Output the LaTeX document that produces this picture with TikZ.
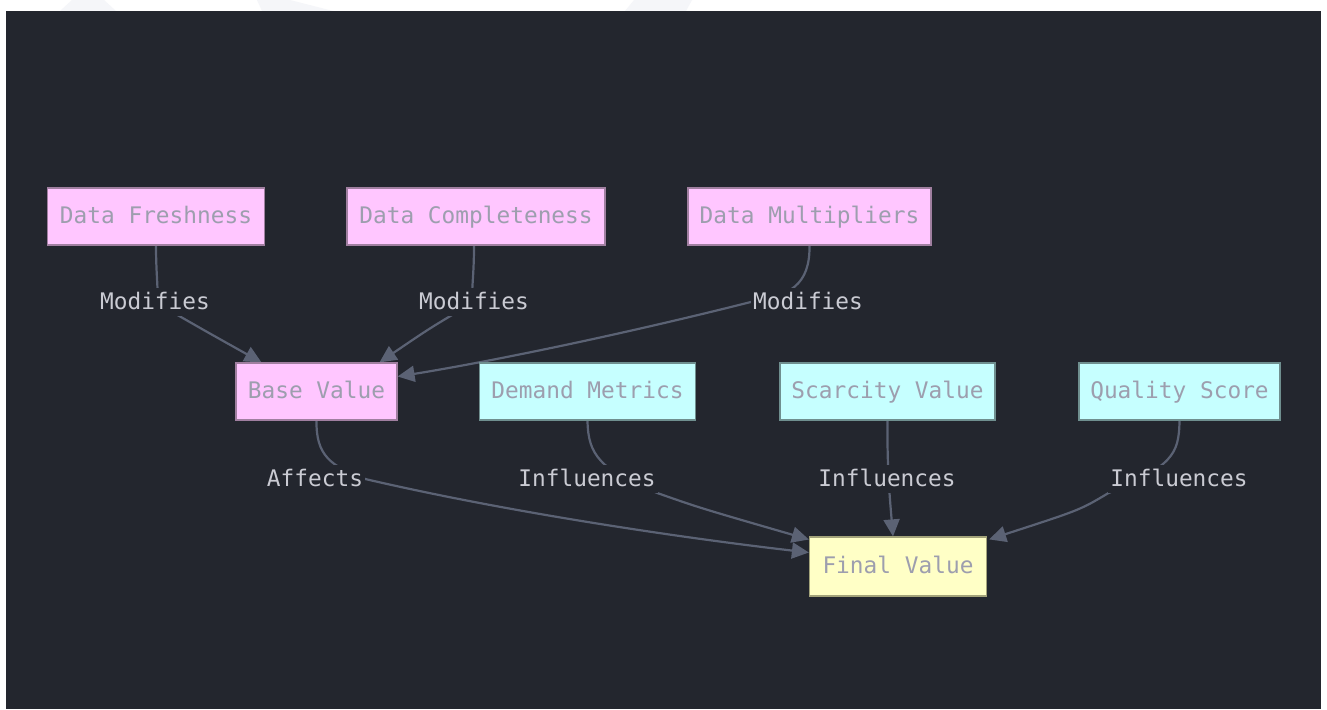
\documentclass[tikz,border=0pt]{standalone}
\usepackage{fontspec}
\setmonofont{DejaVu Sans Mono}
\usetikzlibrary{arrows.meta}
\pgfdeclarelayer{back}
\pgfdeclarelayer{wires}
\pgfsetlayers{back,wires,main}

\definecolor{canvas}{HTML}{23262E}
\definecolor{paper}{HTML}{FFFFFF}
\definecolor{ghost}{HTML}{F5F6F9}
\definecolor{pinkfill}{HTML}{FFC6FF}
\definecolor{pinkline}{HTML}{A07FA0}
\definecolor{cyanfill}{HTML}{C6FFFF}
\definecolor{cyanline}{HTML}{6F8F8F}
\definecolor{yellowfill}{HTML}{FFFFC6}
\definecolor{yellowline}{HTML}{A3A37A}
\definecolor{boxtext}{HTML}{9D9EAE}
\definecolor{labeltext}{HTML}{CACBD3}
\definecolor{wire}{HTML}{5B6274}

\tikzset{
  box/.style={draw, line width=1.2pt, minimum height=57pt, inner sep=0pt,
    text=boxtext, text height=19pt, text depth=5pt,
    font=\ttfamily\fontsize{22.8}{26}\selectfont},
  pinkbox/.style={box, fill=pinkfill, draw=pinkline},
  cyanbox/.style={box, fill=cyanfill, draw=cyanline},
  yellowbox/.style={box, fill=yellowfill, draw=yellowline},
  edgelabel/.style={fill=canvas, text=labeltext, inner sep=2pt,
    text height=19pt, text depth=5pt,
    font=\ttfamily\fontsize{22.8}{26}\selectfont},
  wireline/.style={draw=wire, line width=2.2pt,
    -{Triangle[length=17pt, width=16pt]}},
}

\begin{document}
\begin{tikzpicture}[x=1pt, y=-1pt]
  % page and dark canvas
  \begin{pgfonlayer}{back}
    \fill[paper] (0,0) rectangle (1327,709);
    \fill[ghost] (60,11) -- (72,0) -- (104,0) -- (116,11) -- cycle;
    \fill[ghost] (257,0) -- (290,0) -- (333,11) -- (262,11) -- cycle;
    \fill[ghost] (625,11) -- (634,0) -- (692,0) -- (686,11) -- cycle;
    \fill[canvas] (6,11) rectangle (1321,709);
  \end{pgfonlayer}
  \useasboundingbox (0,0) rectangle (1327,709);

  % boxes
  \node[pinkbox, minimum width=217pt] (fresh) at (156,216.5) {Data Freshness};
  \node[pinkbox, minimum width=258pt] (compl) at (476,216.5) {Data Completeness};
  \node[pinkbox, minimum width=243pt] (mult)  at (809.5,216.5) {Data Multipliers};
  \node[pinkbox, minimum width=161pt] (base)  at (316.5,391.5) {Base Value};
  \node[cyanbox, minimum width=216pt] (demand) at (587.5,391.5) {Demand Metrics};
  \node[cyanbox, minimum width=215pt] (scarce) at (887.5,391.5) {Scarcity Value};
  \node[cyanbox, minimum width=201pt] (quality) at (1179.5,391.5) {Quality Score};
  \node[yellowbox, minimum width=177pt, minimum height=59pt] (final) at (898,566.5) {Final Value};

  % edge labels
  \node[edgelabel] (lfresh) at (155,302) {Modifies};
  \node[edgelabel] (lcompl) at (474,302) {Modifies};
  \node[edgelabel] (lmult)  at (808,302) {Modifies};
  \node[edgelabel] (lbase)  at (315,479) {Affects};
  \node[edgelabel] (ldemand) at (587,479) {Influences};
  \node[edgelabel] (lscarce) at (887,479) {Influences};
  \node[edgelabel] (lquality) at (1179,479) {Influences};

  % connectors, drawn beneath the labels
  \begin{pgfonlayer}{wires}
    \draw[wireline] (fresh.south) .. controls (156,282) and (160,298) .. (lfresh.center)
      .. controls (200,328) .. ([xshift=-55pt]base.north);
    \draw[wireline] (compl.south -| lcompl) .. controls (474,282) and (470,296) .. (lcompl.center)
      .. controls (430,328) .. ([xshift=63pt]base.north);
    \draw[wireline] (mult.south) .. controls (810,285) and (790,296) .. (lmult.west)
      .. controls (600,340) and (470,365) .. ([yshift=15pt]base.east);
    \draw[wireline] (base.south) .. controls (316,455) and (330,466) .. (lbase.east)
      .. controls (520,515) and (700,540) .. ([yshift=14pt]final.west);
    \draw[wireline] (demand.south) .. controls (588,455) and (600,470) .. (ldemand.south east)
      .. controls (700,508) .. ([yshift=27pt]final.west);
    \draw[wireline] (scarce.south) .. controls (887,470) and (890,500) .. ([xshift=-5pt]final.north);
    \draw[wireline] (quality.south) .. controls (1179,455) and (1172,466) .. (lquality.south west)
      .. controls (1080,510) .. ([xshift=2pt,yshift=-3pt]final.north east);
  \end{pgfonlayer}
\end{tikzpicture}
\end{document}
